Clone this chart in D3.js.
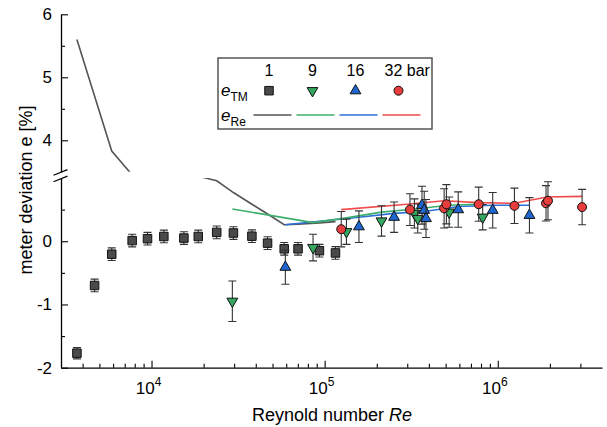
<!DOCTYPE html>
<html>
<head>
<meta charset="utf-8">
<title>meter deviation vs Reynold number</title>
<script src="https://cdn.jsdelivr.net/npm/d3@7"></script>
<style>
  body { margin: 0; background: #fff; }
  svg text { font-family: "Liberation Sans", Arial, sans-serif; fill: #000; }
</style>
</head>
<body>
<svg width="607" height="427" id="chart"></svg>
<script>
// legend / series labels
const pressures = ["1", "9", "16", "32 bar"];
const fillColors = ["#4a4a4a", "#34a760", "#1f66d1", "#e83d3d"];
const lineColors = ["#555555", "#3cae6c", "#2c70d8", "#ef4b4b"];

// e_TM points (Re, e, error)
const re1 = [3707, 4690, 5890, 7730, 9480, 11780, 15380, 18620, 23800, 29720, 38000, 46800, 58400, 70200, 93300, 115500];
const e1 = [-1.77, -0.70, -0.205, 0.01, 0.04, 0.075, 0.05, 0.075, 0.14, 0.13, 0.08, -0.03, -0.12, -0.12, -0.15, -0.185];
const err1 = [0.09, 0.1, 0.1, 0.1, 0.1, 0.1, 0.1, 0.1, 0.1, 0.1, 0.1, 0.1, 0.1, 0.1, 0.1, 0.1];

const re9 = [29300, 85700, 133600, 213000, 330000, 345000, 524000, 818000];
const e9 = [-0.95, -0.10, 0.15, 0.32, 0.44, 0.36, 0.46, 0.38];
const err9 = [0.32, 0.21, 0.2, 0.24, 0.23, 0.23, 0.24, 0.2];

const re16 = [59300, 157800, 251800, 365000, 376000, 385000, 591000, 935000, 1524000];
const e16 = [-0.41, 0.23, 0.38, 0.57, 0.49, 0.36, 0.50, 0.49, 0.41];
const err16 = [0.27, 0.25, 0.24, 0.3, 0.3, 0.3, 0.28, 0.28, 0.28];

const re32 = [124700, 311000, 490000, 505000, 776000, 1248000, 1900000, 1950000, 3070000];
const e32 = [0.19, 0.50, 0.52, 0.585, 0.585, 0.56, 0.60, 0.64, 0.54];
const err32 = [0.28, 0.25, 0.31, 0.31, 0.27, 0.28, 0.28, 0.3, 0.28];

// e_Re curves
const reLine1 = [3707, 5890, 7730, 9480, 11780, 15380, 18620, 23800, 29720, 38000, 46800, 58400, 70200, 93300, 115500];
const eLine1 = [5.6, 3.83, 3.45, 2.9, 2.2, 1.5, 1.03, 0.955, 0.77, 0.585, 0.43, 0.26, 0.27, 0.29, 0.31];
const reLine9 = [29300, 85700, 133600, 213000, 330000, 524000, 818000];
const eLine9 = [0.51, 0.295, 0.37, 0.46, 0.51, 0.57, 0.59];
const reLine16 = [59300, 157800, 251800, 376000, 591000, 935000, 1524000];
const eLine16 = [0.26, 0.38, 0.44, 0.47, 0.55, 0.57, 0.57];
const reLine32 = [124700, 311000, 490000, 776000, 1248000, 1930000, 3070000];
const eLine32 = [0.50, 0.59, 0.64, 0.61, 0.60, 0.70, 0.71];

// ticks
const xMajor = [1e4, 1e5, 1e6];
const yLowMajor = [-2, -1, 0];
const yLowMinor = [-1.5, -0.5, 0.5];
const yUpMajor = [4, 5, 6];
const yUpMinor = [4.5, 5.5];

const points = [
  { re: re1, e: e1, err: err1 },
  { re: re9, e: e9, err: err9 },
  { re: re16, e: e16, err: err16 },
  { re: re32, e: e32, err: err32 },
].map((s, k) => s.re.map((r, i) => ({ re: r, e: s.e[i], err: s.err[i], k: k })));

const curves = [
  [reLine1, eLine1], [reLine16, eLine16], [reLine9, eLine9], [reLine32, eLine32]
].map(c => c[0].map((r, i) => ({ re: r, e: c[1][i] })));
const curveColor = [lineColors[0], lineColors[2], lineColors[1], lineColors[3]];

const svg = d3.select('#chart');
const left = 61, right = 602;

const x = d3.scaleLog().domain([3000, 4e6]).range([left, right]);
const yLow = d3.scaleLinear().domain([-2, 1]).range([367.7, 178]);
const yUp = d3.scaleLinear().domain([3.5, 6]).range([171.8, 14.3]);

const defs = svg.append('defs');
defs.append('clipPath').attr('id', 'clipLow').append('rect')
  .attr('x', left).attr('y', yLow.range()[1]).attr('width', right - left)
  .attr('height', yLow.range()[0] - yLow.range()[1]);
defs.append('clipPath').attr('id', 'clipUp').append('rect')
  .attr('x', left).attr('y', yUp.range()[1]).attr('width', right - left)
  .attr('height', yUp.range()[0] - yUp.range()[1]);

function marker(k, s) {
  if (k == 0) return `M${-s / 2},${-s / 2}h${s}v${s}h${-s}Z`;
  if (k == 3) return d3.symbol(d3.symbolCircle, Math.PI * (s / 2) * (s / 2))();
  const w = s * 1.2, h = w * 0.866;
  if (k == 1) return `M0,${h * 2 / 3}L${w / 2},${-h / 3}L${-w / 2},${-h / 3}Z`;
  return `M0,${-h * 2 / 3}L${w / 2},${h / 3}L${-w / 2},${h / 3}Z`;
}

// curves, once per panel
[['clipLow', yLow], ['clipUp', yUp]].forEach(([clip, y]) => {
  const line = d3.line().x(d => x(d.re)).y(d => y(d.e));
  svg.append('g').attr('clip-path', `url(#${clip})`)
    .selectAll('path')
    .data(curves)
    .join('path')
    .attr('d', line)
    .attr('fill', 'none')
    .attr('stroke', (d, i) => curveColor[i])
    .attr('stroke-width', 1.6);
});

// points with error bars
const pts = svg.append('g').attr('clip-path', 'url(#clipLow)');
points.forEach(series => {
  const g = pts.append('g')
    .selectAll('g')
    .data(series)
    .join('g')
    .attr('transform', d => `translate(${x(d.re)},${yLow(d.e)})`);
  g.append('path')
    .attr('d', d => {
      const t = yLow(d.e + d.err) - yLow(d.e), b = yLow(d.e - d.err) - yLow(d.e);
      return `M0,${t}V${b}M-4,${t}H4M-4,${b}H4`;
    })
    .attr('stroke', '#333').attr('stroke-width', 1.1).attr('fill', 'none');
  g.append('path')
    .attr('d', d => marker(d.k, d.k == 0 ? 8.5 : 9))
    .attr('fill', d => fillColors[d.k])
    .attr('stroke', '#111').attr('stroke-width', 1);
});

// axes
const font = 17;
function styleAxis(g) {
  g.selectAll('path.domain').attr('stroke', '#000').attr('stroke-width', 1.3);
  g.selectAll('.tick line').attr('stroke', '#000').attr('stroke-width', 1.1);
  g.selectAll('.tick text').attr('font-size', font).attr('font-family', '"Liberation Sans", Arial, sans-serif');
}

const xMinor = [];
for (let p = 3; p <= 6; p++)
  for (let m = 2; m <= 9; m++) {
    const v = m * Math.pow(10, p);
    if (v > 3000 && v < 4e6) xMinor.push(v);
  }

const xAxisG = svg.append('g').attr('transform', `translate(0,${yLow.range()[0]})`);
xAxisG.call(d3.axisBottom(x).tickValues(xMajor).tickSize(-7).tickSizeOuter(0).tickFormat(''))
  .call(styleAxis);
xAxisG.append('g').call(d3.axisBottom(x).tickValues(xMinor).tickSize(-4).tickFormat(''))
  .call(g => g.select('.domain').remove())
  .call(styleAxis);
xAxisG.selectAll('.xlab')
  .data(xMajor)
  .join('text')
  .classed('xlab', true)
  .attr('x', d => x(d) - 3)
  .attr('y', 26)
  .attr('text-anchor', 'middle')
  .attr('font-size', font)
  .text('10')
  .append('tspan')
  .attr('dy', -8)
  .attr('font-size', 12)
  .text(d => Math.round(Math.log10(d)));

function yAxis(y, major, minor) {
  const g = svg.append('g').attr('transform', `translate(${left},0)`);
  g.call(d3.axisLeft(y).tickValues(major).tickSize(-7).tickSizeOuter(0).tickPadding(9)
    .tickFormat(d => d < 0 ? '-' + Math.abs(d) : d))
    .call(styleAxis);
  g.append('g').call(d3.axisLeft(y).tickValues(minor).tickSize(-4).tickFormat(''))
    .call(g => g.select('.domain').remove())
    .call(styleAxis);
}
yAxis(yLow, yLowMajor, yLowMinor);
yAxis(yUp, yUpMajor, yUpMinor);

// break marks
svg.append('g')
  .selectAll('line')
  .data([yUp.range()[0] + 0.5, yLow.range()[1] + 0.8])
  .join('line')
  .attr('x1', left - 7.5).attr('x2', left + 6.5)
  .attr('y1', d => d + 3).attr('y2', d => d - 2.7)
  .attr('stroke', '#000').attr('stroke-width', 1.2);

// titles
const xt = svg.append('text')
  .attr('x', 332).attr('y', 421)
  .attr('text-anchor', 'middle')
  .attr('font-size', 18)
  .text('Reynold number ');
xt.append('tspan').attr('font-style', 'italic').text('Re');

svg.append('text')
  .attr('transform', 'translate(32,190) rotate(-90)')
  .attr('text-anchor', 'middle')
  .attr('font-size', 18)
  .text('meter deviation e [%]');

// legend
const lg = svg.append('g');
lg.append('rect')
  .attr('x', 218).attr('y', 58).attr('width', 214).attr('height', 71)
  .attr('fill', '#fff').attr('stroke', '#555').attr('stroke-width', 1.5);

const colX = [269, 312.5, 355.5, 398.5];
lg.selectAll('.head')
  .data(pressures)
  .join('text')
  .classed('head', true)
  .attr('x', (d, i) => i < 3 ? colX[i] : colX[i] - 14)
  .attr('y', 76)
  .attr('text-anchor', (d, i) => i < 3 ? 'middle' : 'start')
  .attr('font-size', 16)
  .text(d => d);

lg.selectAll('.sym')
  .data(pressures)
  .join('path')
  .classed('sym', true)
  .attr('transform', (d, i) => `translate(${colX[i]},${90.7})`)
  .attr('d', (d, i) => marker(i, i == 0 ? 8.5 : 9))
  .attr('fill', (d, i) => fillColors[i])
  .attr('stroke', '#111').attr('stroke-width', 1);

lg.selectAll('.seg')
  .data(pressures)
  .join('line')
  .classed('seg', true)
  .attr('x1', (d, i) => 253.5 + i * 43).attr('x2', (d, i) => 291.5 + i * 43)
  .attr('y1', 115).attr('y2', 115)
  .attr('stroke', (d, i) => lineColors[i]).attr('stroke-width', 1.6);

[['TM', 96], ['Re', 121]].forEach(([sub, yy]) => {
  const t = lg.append('text').attr('x', 221).attr('y', yy).attr('font-size', 17);
  t.append('tspan').attr('font-style', 'italic').text('e');
  t.append('tspan').attr('dy', 5).attr('font-size', 12).text(sub);
});
</script>
</body>
</html>
